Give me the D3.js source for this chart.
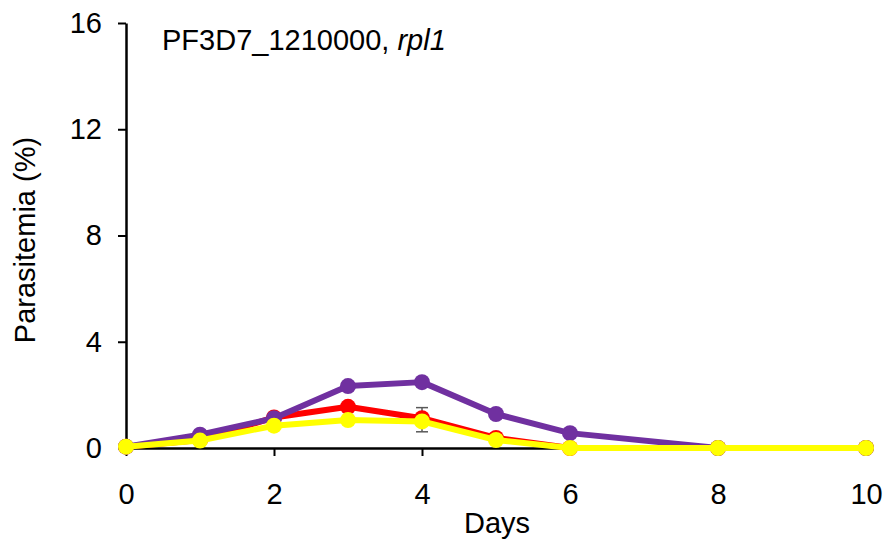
<!DOCTYPE html>
<html>
<head>
<meta charset="utf-8">
<script src="https://cdn.jsdelivr.net/npm/d3@7"></script>
<style>
  body { margin: 0; background: #fff; }
  text { font-family: "Liberation Sans", Arial, sans-serif; }
</style>
</head>
<body>
<div id="chart"></div>
<script>
const width = 884, height = 544;
const margin = {top: 23, right: 18, bottom: 96, left: 126};

const days = [0, 1, 2, 3, 4, 5, 6, 8, 10];
const purpleVals = [0.05, 0.5, 1.12, 2.33, 2.48, 1.28, 0.56, 0.0, 0.0];
const redVals    = [0.05, 0.3, 1.15, 1.55, 1.12, 0.38, 0.0, 0.0, 0.0];
const yellowVals = [0.05, 0.28, 0.84, 1.05, 1.0, 0.3, 0.0, 0.0, 0.0];
const errorBars = [{day: 4, lo: 0.61, hi: 1.52}];
const xTicks = [0, 2, 4, 6, 8, 10];
const yTicks = [0, 4, 8, 12, 16];

const series = [
  {name: "red", color: "#ff0000", values: redVals},
  {name: "purple", color: "#7030a0", values: purpleVals},
  {name: "yellow", color: "#ffff00", values: yellowVals}
];

const svg = d3.select("#chart").append("svg")
  .attr("width", width).attr("height", height);

const x = d3.scaleLinear().domain([0, 10]).range([margin.left, width - margin.right]);
const y = d3.scaleLinear().domain([0, 16]).range([height - margin.bottom, margin.top]);

// axes
const xAxis = svg.append("g")
  .attr("transform", `translate(0,${y(0)})`)
  .call(d3.axisBottom(x).tickValues(xTicks).tickSize(8).tickPadding(27).tickSizeOuter(0));
const yAxis = svg.append("g")
  .attr("transform", `translate(${x(0)},0)`)
  .call(d3.axisLeft(y).tickValues(yTicks).tickSize(8).tickPadding(16).tickSizeOuter(0));

[xAxis, yAxis].forEach(a => {
  a.select(".domain").attr("stroke", "#000").attr("stroke-width", 2.5);
  a.selectAll(".tick line").attr("stroke", "#000").attr("stroke-width", 2);
  a.selectAll(".tick text").attr("fill", "#000")
    .style("font-size", "29px").style("font-family", "Liberation Sans, Arial, sans-serif");
});

// error bars
errorBars.forEach(e => {
  const g = svg.append("g").attr("stroke", "#595959").attr("stroke-width", 1.5);
  g.append("line").attr("x1", x(e.day)).attr("x2", x(e.day)).attr("y1", y(e.lo)).attr("y2", y(e.hi));
  g.append("line").attr("x1", x(e.day) - 6).attr("x2", x(e.day) + 6).attr("y1", y(e.lo)).attr("y2", y(e.lo));
  g.append("line").attr("x1", x(e.day) - 6).attr("x2", x(e.day) + 6).attr("y1", y(e.hi)).attr("y2", y(e.hi));
});

const line = d3.line().x(d => x(d[0])).y(d => y(d[1]));

series.forEach(s => {
  const pts = days.map((d, i) => [d, s.values[i]]);
  svg.append("path").datum(pts)
    .attr("fill", "none").attr("stroke", s.color)
    .attr("stroke-width", 6).attr("stroke-linejoin", "round")
    .attr("d", line);
  svg.selectAll(null).data(pts).enter().append("circle")
    .attr("cx", d => x(d[0])).attr("cy", d => y(d[1]))
    .attr("r", 8).attr("fill", s.color);
});

// title
const title = svg.append("text").attr("x", 162).attr("y", 50)
  .style("font-size", "29px").attr("fill", "#000");
title.append("tspan").text("PF3D7_1210000, ");
title.append("tspan").style("font-style", "italic").text("rpl1");

// axis labels
svg.append("text").attr("x", 497).attr("y", 533)
  .attr("text-anchor", "middle").style("font-size", "29px").text("Days");
svg.append("text")
  .attr("transform", `translate(35,240) rotate(-90)`)
  .attr("text-anchor", "middle").style("font-size", "29px").text("Parasitemia (%)");
</script>
</body>
</html>
